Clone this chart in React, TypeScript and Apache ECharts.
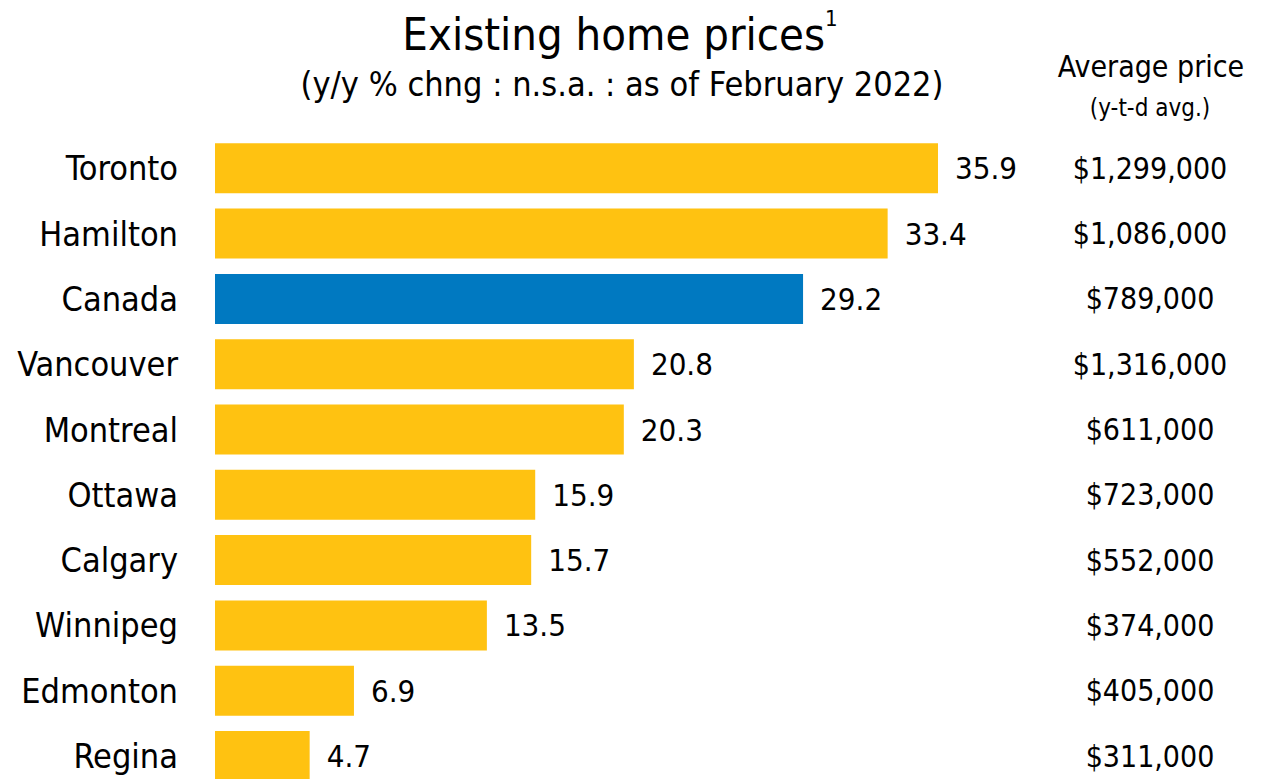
import React, { useEffect, useRef } from "react";
import * as echarts from "echarts";

const categories = ["Toronto", "Hamilton", "Canada", "Vancouver", "Montreal", "Ottawa", "Calgary", "Winnipeg", "Edmonton", "Regina"];
const changes = [35.9, 33.4, 29.2, 20.8, 20.3, 15.9, 15.7, 13.5, 6.9, 4.7];
const avgPrices = ["$1,299,000", "$1,086,000", "$789,000", "$1,316,000", "$611,000", "$723,000", "$552,000", "$374,000", "$405,000", "$311,000"];
const highlight = "Canada";

const FONT = "'DejaVu Sans Condensed', 'Liberation Sans', sans-serif";
const YELLOW = "#FFC211";
const BLUE = "#0079C1";

export default function App() {
  const ref = useRef<HTMLDivElement>(null);
  useEffect(() => {
    document.body.style.margin = "0";
    const chart = echarts.init(ref.current!, null, { renderer: "svg" });
    chart.setOption({
      animation: false,
      backgroundColor: "#ffffff",
      textStyle: { fontFamily: FONT },
      grid: { left: 215, top: 168.3, width: 725, height: 587.7, containLabel: false },
      xAxis: { type: "value", min: 0, max: 36, show: false },
      yAxis: [
        {
          type: "category",
          data: categories,
          inverse: true,
          boundaryGap: false,
          axisLine: { show: false },
          axisTick: { show: false },
          axisLabel: { fontSize: 34, color: "#000", margin: 37, fontFamily: FONT },
        },
        {
          type: "category",
          data: avgPrices,
          inverse: true,
          boundaryGap: false,
          position: "right",
          axisLine: { show: false },
          axisTick: { show: false },
          axisLabel: { fontSize: 30, color: "#000", margin: 210, align: "center", fontFamily: FONT },
        },
      ],
      series: [
        {
          type: "bar",
          yAxisIndex: 0,
          barWidth: 50,
          data: changes.map((v, i) => ({
            value: v,
            itemStyle: { color: categories[i] === highlight ? BLUE : YELLOW },
          })),
          label: {
            show: true,
            position: "right",
            distance: 17,
            fontSize: 31,
            color: "#000",
            fontFamily: FONT,
            formatter: (p: any) => Number(p.value).toFixed(1),
          },
        },
      ],
      graphic: [
        {
          type: "text",
          x: 620,
          y: 32,
          style: {
            text: "{t|Existing home prices}{s|1}",
            textAlign: "center",
            textVerticalAlign: "middle",
            fill: "#000",
            rich: {
              t: { fontSize: 45, fontFamily: FONT, fill: "#000", lineHeight: 50, verticalAlign: "bottom" },
              s: { fontSize: 22, fontFamily: FONT, fill: "#000", lineHeight: 50, verticalAlign: "top" },
            },
          },
        },
        {
          type: "text",
          x: 622,
          y: 84,
          style: {
            text: "(y/y % chng : n.s.a. : as of February 2022)",
            font: `34px ${FONT}`,
            textAlign: "center",
            textVerticalAlign: "middle",
            fill: "#000",
          },
        },
        {
          type: "text",
          x: 1151,
          y: 66,
          style: {
            text: "Average price",
            font: `30px ${FONT}`,
            textAlign: "center",
            textVerticalAlign: "middle",
            fill: "#000",
          },
        },
        {
          type: "text",
          x: 1150,
          y: 108,
          style: {
            text: "(y-t-d avg.)",
            font: `24px ${FONT}`,
            textAlign: "center",
            textVerticalAlign: "middle",
            fill: "#000",
          },
        },
      ],
    });
    return () => chart.dispose();
  }, []);
  return <div ref={ref} style={{ width: 1271, height: 779 }} />;
}
